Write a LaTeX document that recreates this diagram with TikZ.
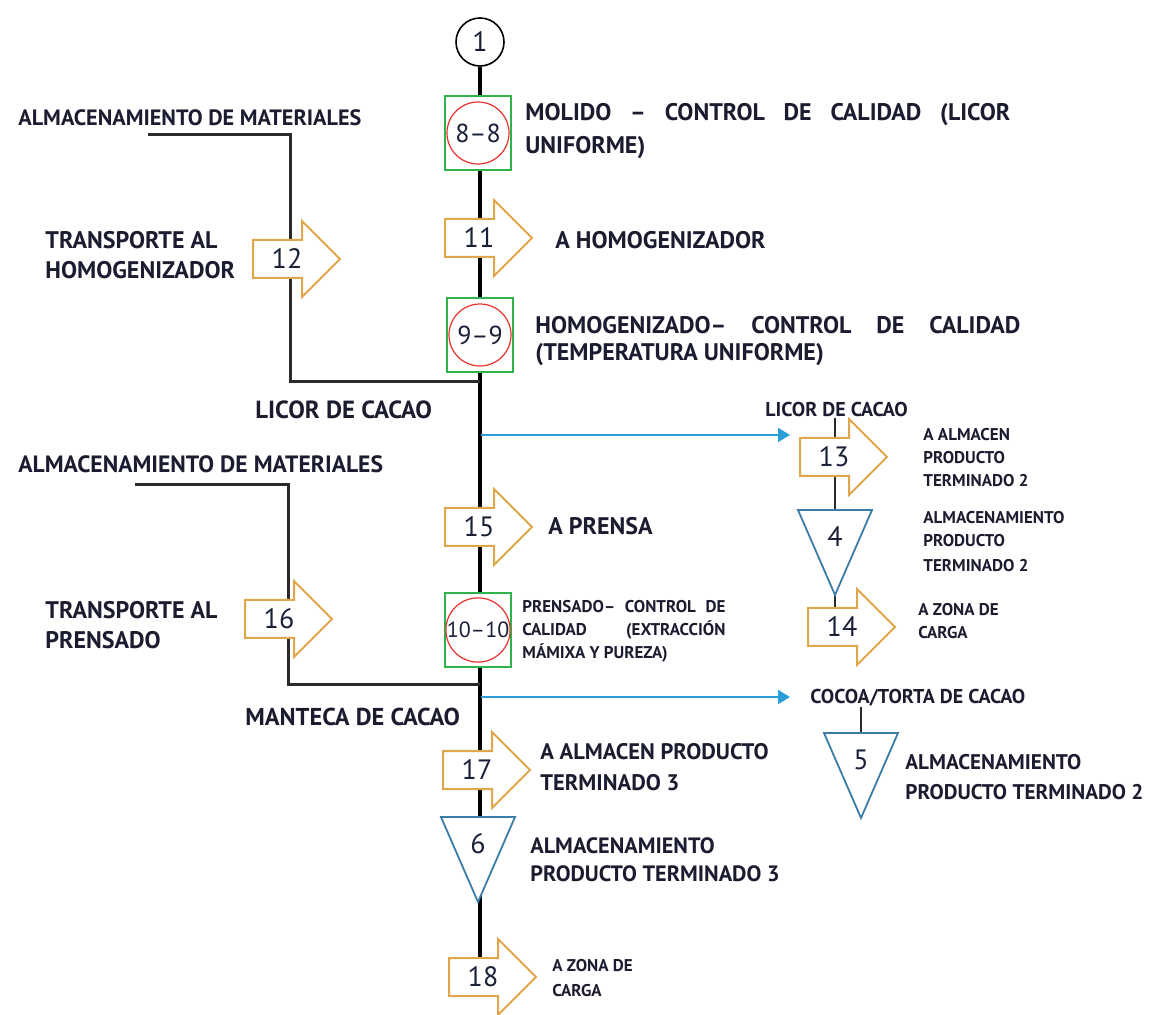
\documentclass[tikz,border=0pt]{standalone}
\usepackage{fontspec}
\setmainfont{PT Sans}
\usetikzlibrary{arrows.meta,backgrounds}
\definecolor{txt}{HTML}{1C1C30}
\definecolor{numc}{HTML}{1A2038}
\definecolor{arrc}{HTML}{DFA64C}
\definecolor{tric}{HTML}{3B7DA6}
\definecolor{boxc}{HTML}{2DB34A}
\definecolor{cirr}{HTML}{E8322E}
\definecolor{flowc}{HTML}{2A9ED8}
\definecolor{brc}{HTML}{2A2A2A}
\tikzset{
  lbl/.style={text=txt, inner sep=0pt, anchor=base west},
  big/.style={lbl, font=\fontsize{12}{14}\selectfont\bfseries},
  mid/.style={lbl, font=\fontsize{10.5}{12}\selectfont\bfseries},
  small/.style={lbl, font=\fontsize{8.5}{10}\selectfont\bfseries},
  fs/.style={font=\fontsize{#1}{#1}\selectfont\bfseries},
  numlbl/.style={text=numc, inner sep=0pt, font=\fontsize{14}{16}\selectfont},
  arrowbox/.style={draw=arrc, line width=1pt, fill=white, line join=miter},
  tribox/.style={draw=tric, line width=0.9pt, fill=white},
  gbox/.style={draw=boxc, line width=0.7pt, fill=white, inner sep=0pt, minimum width=33pt, minimum height=37pt},
  rcirc/.style={circle, draw=cirr, line width=0.6pt, inner sep=0pt, minimum size=31pt, text=numc, font=\fontsize{13}{15}\selectfont},
  mainline/.style={line width=2pt, black},
  branch/.style={line width=1.5pt, brc},
  subline/.style={line width=1.4pt, brc},
  flow/.style={line width=1pt, flowc, -{Triangle[length=6pt,width=7pt]}},
}
\newcommand\procarrow[4]{%
  \draw[arrowbox] (#2,#3-19) -- ++(49,0) -- ++(0,-19) -- ++(38,38) -- ++(-38,38) -- ++(0,-19) -- ++(-49,0) -- cycle;
  \node[numlbl] (#1) at (#2+34,#3) {#4};}
\newcommand\storetri[4]{%
  \draw[tribox] (#2-37,#3) -- (#2+37,#3) -- (#2,#3+85) -- cycle;
  \node[numlbl] (#1) at (#2,#3+27) {#4};}
\begin{document}
\begin{tikzpicture}[x=0.5pt,y=-0.5pt]
\useasboundingbox (0,0) rectangle (1157,1015);

% ---- main column ----
\node[circle, draw, line width=0.8pt, fill=white, minimum size=24pt, inner sep=0pt, text=numc, font=\fontsize{14}{16}\selectfont] (c1) at (480,42) {1};

\node[gbox] (b8) at (478,133) {};
\node[rcirc] (q8) at (478,133) {8–8};

\procarrow{a11}{445}{238}{11}

\node[gbox] (b9) at (480,335) {};
\node[rcirc] (q9) at (480,335) {9–9};

\procarrow{a15}{445}{527}{15}

\node[gbox] (b10) at (478,630) {};
\node[rcirc, minimum size=32pt, font=\fontsize{11}{13}\selectfont] (q10) at (478,630) {10–10};

\procarrow{a17}{443}{770}{17}
\storetri{n6}{478}{817}{6}
\procarrow{a18}{449}{977}{18}

% ---- left branches ----
\procarrow{a12}{253}{259}{12}
\procarrow{a16}{245}{619}{16}

% ---- right column ----
\procarrow{a13}{800}{457}{13}
\storetri{n4}{835}{510}{4}
\procarrow{a14}{808}{627}{14}
\storetri{n5}{861}{733}{5}

% ---- texts ----
\node[big] (t1a) at (525,120.4) {\makebox[242.5pt][s]{MOLIDO – CONTROL DE CALIDAD (LICOR}};
\node[big] (t1b) at (525,153.4) {UNIFORME)};
\node[big] (t2) at (555,248.4) {A HOMOGENIZADOR};
\node[big] (t3a) at (535,333.4) {\makebox[242.5pt][s]{HOMOGENIZADO– CONTROL DE CALIDAD}};
\node[big] (t3b) at (535,360.4) {(TEMPERATURA UNIFORME)};
\node[lbl, fs=11.1] (t4) at (18,125.8) {ALMACENAMIENTO DE MATERIALES};
\node[big] (t5a) at (45,248.4) {TRANSPORTE AL};
\node[big] (t5b) at (45,278.4) {HOMOGENIZADOR};
\node[lbl, fs=12.4] (t6) at (255,418.5) {LICOR DE CACAO};
\node[lbl, fs=10] (t7) at (765,417) {LICOR DE CACAO};
\node[small] (t8a) at (923,441) {A ALMACEN};
\node[small] (t8b) at (923,464) {PRODUCTO};
\node[small] (t8c) at (923,487) {TERMINADO 2};
\node[small] (t9a) at (923,524) {ALMACENAMIENTO};
\node[small] (t9b) at (923,547) {PRODUCTO};
\node[small] (t9c) at (923,572) {TERMINADO 2};
\node[small] (t10a) at (918,616) {A ZONA DE};
\node[small] (t10b) at (918,639) {CARGA};
\node[lbl, fs=11.8] (t11) at (18,473) {ALMACENAMIENTO DE MATERIALES};
\node[big] (t12) at (548,534.4) {A PRENSA};
\node[big] (t13a) at (45,618.4) {TRANSPORTE AL};
\node[big] (t13b) at (45,648.4) {PRENSADO};
\node[small] (t14a) at (522,613) {\makebox[101.5pt][s]{PRENSADO– CONTROL DE}};
\node[small] (t14b) at (522,636) {\makebox[101.5pt][s]{CALIDAD (EXTRACCIÓN}};
\node[small] (t14c) at (522,659) {MÁMIXA Y PUREZA)};
\node[lbl, fs=10] (t15) at (810,704) {COCOA/TORTA DE CACAO};
\node[lbl, fs=12.2] (t16) at (245,725.5) {MANTECA DE CACAO};
\node[lbl, fs=10.6] (t17a) at (905,769.4) {ALMACENAMIENTO};
\node[lbl, fs=10.6] (t17b) at (905,799.4) {PRODUCTO TERMINADO 2};
\node[lbl, fs=11.25] (t18a) at (540,760) {A ALMACEN PRODUCTO};
\node[lbl, fs=11.25] (t18b) at (540,791) {TERMINADO 3};
\node[lbl, fs=11.1] (t19a) at (530,853) {ALMACENAMIENTO};
\node[lbl, fs=11.1] (t19b) at (530,881) {PRODUCTO TERMINADO 3};
\node[small] (t20a) at (552,971) {A ZONA DE};
\node[small] (t20b) at (552,996) {CARGA};

% ---- connectors (behind) ----
\coordinate (br1s) at (148,135);
\coordinate (br1c) at (290,382);
\coordinate (j1) at (480,382);
\coordinate (br2s) at (135,485);
\coordinate (br2c) at (288,685);
\coordinate (j2) at (480,685);
\coordinate (f1s) at (481,435);
\coordinate (f1e) at (790,435);
\coordinate (f2s) at (481,697);
\coordinate (f2e) at (790,697);
\begin{scope}[on background layer]
  \draw[mainline] (c1.south) -- (c1.south |- a18);
  \draw[branch] (br1s) -| (br1c) -- (j1);
  \draw[branch] (br2s) -| (br2c) -- (j2);
  \draw[subline] (t7.south -| n4) -- (n4);
  \draw[subline] (n4) -- (n4 |- a14);
  \draw[subline] (t15.south -| n5) -- (n5);
\end{scope}
\draw[flow] (f1s) -- (f1e);
\draw[flow] (f2s) -- (f2e);
\end{tikzpicture}
\end{document}
